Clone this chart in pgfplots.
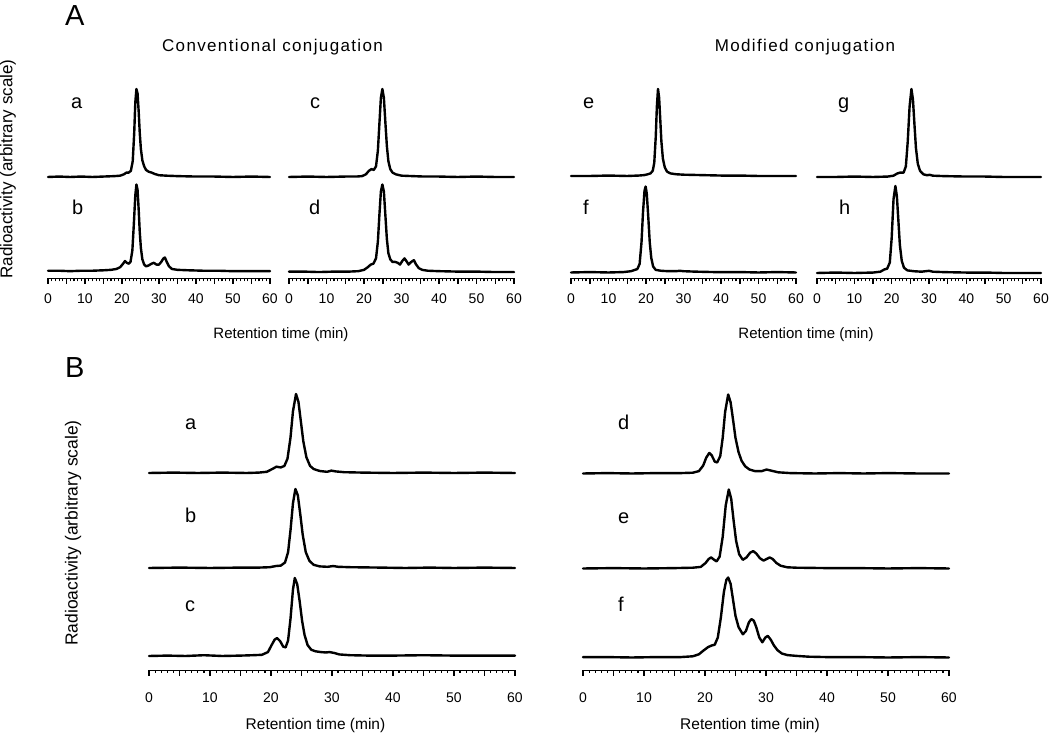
\documentclass[border=0pt]{standalone}
\usepackage{pgfplots}
\pgfplotsset{compat=1.18}
\usepackage{pgfplotstable}
\usepackage{fontspec}
\setmainfont{Liberation Sans}
\newfontfamily\spaced[LetterSpace=8]{Liberation Sans}

% ---------------- Panel A traces (relative intensity, peak = 100)
\pgfplotstableread{
t i
0 0
3 0.5
6 0
9 0.5
12 0
15 0.5
18 1
19.5 1.5
20.5 3
21.2 5
21.8 5
22.4 7
22.9 18
23.3 50
23.6 85
23.9 100
24.2 95
24.5 75
24.8 50
25.1 32
25.5 19
26 12
26.5 8
27.2 6
28 5
28.8 3.5
30 2
32 1.5
35 1
40 0.5
45 0.5
50 0
55 0.5
60 0
}\Aa
\pgfplotstableread{
t i
0 2
3 2
6 1.5
9 2
12 2
15 2.5
17 3
18.5 4
19.5 6
20.3 10
20.8 13
21.3 11
21.8 10
22.3 12
22.8 25
23.2 55
23.6 88
23.9 100
24.2 94
24.5 72
24.8 46
25.1 28
25.5 15
26 9
26.5 7
27.2 8
28 10
28.6 11
29.3 9
30 9
30.6 12
31.2 16
31.6 17
32.1 12
32.7 7
33.5 4
35 3
38 2.5
42 2
46 2
50 1.5
55 1.5
60 1.5
}\Ab
\pgfplotstableread{
t i
0 0
5 0.5
10 0
15 0.5
18 0.5
19.5 1
20.5 3
21.3 7
22 9
22.6 8
23.2 12
23.7 30
24.1 60
24.5 90
24.9 100
25.3 90
25.7 62
26.1 35
26.5 18
27 9
27.6 5
28.5 3
30 1.5
33 1
36 0.5
40 0.5
45 0
50 0.5
55 0
60 0
}\Ac
\pgfplotstableread{
t i
0 1
4 1
8 0.5
12 1
16 1
18.5 1.5
20 3
21 6
21.8 9
22.5 10
23.2 16
23.7 35
24.1 65
24.5 92
24.9 100
25.3 92
25.7 65
26.1 38
26.5 22
27 15
27.6 12
28.3 12
29 11
29.6 9
30.2 13
30.8 16
31.3 13
31.9 9
32.6 12
33.3 14
33.9 9
34.6 5
35.5 3
37 2
40 1.5
45 1
50 1
55 0.5
60 0.5
}\Ad
\pgfplotstableread{
t i
0 0
5 0
10 0.5
15 0
18 0.5
19.5 1
20.5 2
21.2 3
21.8 6
22.2 15
22.6 45
22.9 80
23.2 100
23.5 90
23.8 65
24.1 40
24.5 20
25 10
25.6 5
26.5 3
28 2
30 1.5
35 1
40 0.5
45 0.5
50 0
55 0
60 0
}\Ae
\pgfplotstableread{
t i
0 0
5 0.5
10 0
14 0.5
16 1.5
17 3
17.7 4
18.3 10
18.8 35
19.2 70
19.6 95
19.9 100
20.2 92
20.6 65
21 35
21.4 17
21.9 7
22.6 3
24 2
26 1.5
28 1.5
29 2
30 1.5
33 1
38 0.5
45 0.5
50 0
55 0.5
60 0
}\Af
\pgfplotstableread{
t i
0 0
5 0
10 0.5
15 0
19 0.5
20.5 1.5
21.5 4
22.3 5
23.2 5
23.8 12
24.3 40
24.8 80
25.3 100
25.7 88
26.1 60
26.5 33
27 15
27.6 7
28.5 3
29.5 2
30.2 2.5
31 1.5
34 1
40 0.5
45 0.5
50 0
55 0
60 0
}\Ag
\pgfplotstableread{
t i
0 0
5 0.5
10 0
15 0.5
17 1.5
18 4
18.8 5
19.5 12
20 40
20.5 85
21 100
21.4 88
21.8 60
22.2 32
22.7 14
23.3 6
24.2 3
26 2
28 1.5
30 2.5
31 1.5
34 1
40 0.5
45 0.5
50 0
55 0
60 0
}\Ah
% ---------------- Panel B traces
\pgfplotstableread{
t i
0 0
4 0.5
8 0
12 0.5
16 0
18 0.5
19.3 1.5
20.2 5
20.9 8
21.6 7
22.2 9
22.7 18
23.2 45
23.6 78
24.1 100
24.5 90
24.9 65
25.3 40
25.8 20
26.4 9
27 5
28 2.5
29.2 1.5
29.9 3
30.6 2
32 1
35 0.5
40 0
45 0.5
50 0
55 0.5
60 0
}\Ba
\pgfplotstableread{
t i
0 0
5 0.5
10 0
15 0.5
18 0.5
19.8 1
20.8 2.5
21.6 3
22.3 7
22.8 20
23.2 48
23.6 82
24 100
24.4 92
24.8 68
25.2 42
25.7 20
26.3 9
27 4
28 2
29.3 1.5
30.2 2.5
31 1.5
33 1
38 0.5
42 0
46 0.5
50 0
55 0.5
60 0
}\Bb
\pgfplotstableread{
t i
0 0
3 0.5
6 0
9 1
12 0
15 0.5
17 1
18.5 1.5
19.5 5
20.1 14
20.6 21
21 23
21.5 19
22 12
22.4 11
22.8 20
23.2 48
23.6 85
23.9 100
24.3 92
24.7 70
25.1 45
25.5 27
26 14
26.6 8
27.3 6
28.2 5
29 4.5
29.6 5
30.3 4
31.2 2
33 1
36 0.5
40 0.5
45 1
50 0.5
55 0.5
60 0.5
}\Bc
\pgfplotstableread{
t i
0 0
4 0.5
8 0
12 0.5
16 0.5
18 1
19 3
19.7 10
20.2 20
20.7 26
21.1 23
21.6 15
22 14
22.5 22
22.9 45
23.3 78
23.8 100
24.2 90
24.6 68
25 45
25.5 27
26 16
26.6 9
27.3 5
28.2 3
29.3 3
30.1 5
30.9 3.5
32 1.5
34 0.5
38 0
42 0.5
46 0
50 0.5
55 0
60 0
}\Bd
\pgfplotstableread{
t i
0 0
5 0.5
10 0
15 0.5
18 1
19.3 2
20.1 7
20.6 12
21 14
21.5 11
21.9 9
22.4 15
22.9 40
23.4 80
23.9 100
24.3 88
24.7 60
25.1 35
25.6 18
26.2 11
26.8 14
27.4 20
27.9 22
28.4 19
29 13
29.6 10
30.1 12
30.6 14
31.1 12
31.7 7
32.4 3.5
33.5 1.5
35 1
40 0.5
45 0.5
50 0
55 0.5
60 0
}\Be
\pgfplotstableread{
t i
0 0.5
4 0.5
8 0
12 0.5
16 0.5
18 1.5
19 4
19.8 9
20.5 13
21.1 15
21.6 16
22.1 25
22.6 50
23.1 82
23.5 97
23.8 100
24.2 92
24.6 72
25 52
25.5 38
26.2 29
26.7 33
27.2 44
27.6 48
28 46
28.4 38
28.9 25
29.4 19
29.9 25
30.3 27
30.8 22
31.3 15
31.9 9
32.6 5
33.5 3
35 2
37 1
40 0.5
45 0.5
50 0
55 0.5
60 0
}\Bf

\tikzset{tr/.style={black, solid, mark=none, line width=2.4pt, line join=round, line cap=round}}
\pgfplotsset{
  chrom/.style={
    scale only axis, clip=false,
    xmin=0, xmax=60, ymin=0,
    axis x line=bottom, axis y line=none,
    axis line style={-, line width=1.8pt, black},
    every outer x axis line/.append style={-, line width=1.8pt, black},
    ytick=\empty,
    xtick={0,5,...,60},
    xticklabels={0,,10,,20,,30,,40,,50,,60},
    minor x tick num=4,
    tick align=outside,
    major tick style={line width=1.5pt, black},
    minor tick style={line width=1.2pt, black},
    major tick length=5.5pt, minor tick length=2.8pt,
    xticklabel style={font=\fontsize{14}{14}\selectfont, anchor=base, inner sep=0pt},
    /pgf/number format/assume math mode=true,
    anchor=south west,
  },
  chromA/.style={chrom, ymax=200, height=200pt, xticklabel shift=19.5pt},
  chromB/.style={chrom, ymax=285, height=285pt, width=366pt, xticklabel shift=26.5pt,
    minor tick length=2.2pt},
}

\begin{document}
\begin{tikzpicture}[x=1pt,y=1pt]
\path[use as bounding box] (0,0) rectangle (1050,735);

% ---------- Panel A
\begin{axis}[chromA, at={(48pt,456.5pt)}, width=222pt]
\addplot[tr] table[x=t, y expr=\thisrow{i}*0.88+101.5] {\Aa};
\addplot[tr] table[x=t, y expr=\thisrow{i}*0.88+6] {\Ab};
\end{axis}
\begin{axis}[chromA, at={(289pt,456.5pt)}, width=225pt]
\addplot[tr] table[x=t, y expr=\thisrow{i}*0.88+101.5] {\Ac};
\addplot[tr] table[x=t, y expr=\thisrow{i}*0.88+6] {\Ad};
\end{axis}
\begin{axis}[chromA, at={(571pt,456.5pt)}, width=225pt]
\addplot[tr] table[x=t, y expr=\thisrow{i}*0.87+102.5] {\Ae};
\addplot[tr] table[x=t, y expr=\thisrow{i}*0.86+6] {\Af};
\end{axis}
\begin{axis}[chromA, at={(817pt,456.5pt)}, width=224pt]
\addplot[tr] table[x=t, y expr=\thisrow{i}*0.88+101.5] {\Ag};
\addplot[tr] table[x=t, y expr=\thisrow{i}*0.87+5.5] {\Ah};
\end{axis}

% ---------- Panel B
\begin{axis}[chromB, at={(149pt,64.5pt)}]
\addplot[tr] table[x=t, y expr=\thisrow{i}*0.79+197.5] {\Ba};
\addplot[tr] table[x=t, y expr=\thisrow{i}*0.79+102.5] {\Bb};
\addplot[tr] table[x=t, y expr=\thisrow{i}*0.78+14.5] {\Bc};
\end{axis}
\begin{axis}[chromB, at={(583pt,64.5pt)}]
\addplot[tr] table[x=t, y expr=\thisrow{i}*0.79+197] {\Bd};
\addplot[tr] table[x=t, y expr=\thisrow{i}*0.79+102] {\Be};
\addplot[tr] table[x=t, y expr=\thisrow{i}*0.80+13] {\Bf};
\end{axis}

% ---------- Texts
\node[anchor=base west, inner sep=0pt, font=\fontsize{29}{29}\selectfont] at (65,709) {A};
\node[anchor=base west, inner sep=0pt, font=\fontsize{29}{29}\selectfont] at (65,357) {B};

\node[rotate=90, inner sep=0pt, font=\fontsize{17}{17}\selectfont] at (8,566) {Radioactivity (arbitrary scale)};
\node[rotate=90, inner sep=0pt, font=\fontsize{17.5}{17.5}\selectfont] at (73,202) {Radioactivity (arbitrary scale)};

\node[anchor=base, inner sep=0pt, font=\fontsize{17}{17}\selectfont\spaced] at (272.5,683) {Conventional conjugation};
\node[anchor=base, inner sep=0pt, font=\fontsize{17}{17}\selectfont\spaced] at (805,683) {Modified conjugation};

\node[anchor=base, inner sep=0pt, font=\fontsize{15}{15}\selectfont] at (281,396) {Retention time (min)};
\node[anchor=base, inner sep=0pt, font=\fontsize{15}{15}\selectfont] at (806,396) {Retention time (min)};
\node[anchor=base, inner sep=0pt, font=\fontsize{15.5}{15.5}\selectfont] at (315.5,5) {Retention time (min)};
\node[anchor=base, inner sep=0pt, font=\fontsize{15.5}{15.5}\selectfont] at (750,5) {Retention time (min)};

\begin{scope}[font=\fontsize{20}{20}\selectfont]
\node[anchor=base west, inner sep=0pt] at (71,626) {a};
\node[anchor=base west, inner sep=0pt] at (72,520) {b};
\node[anchor=base west, inner sep=0pt] at (310,626) {c};
\node[anchor=base west, inner sep=0pt] at (309,520) {d};
\node[anchor=base west, inner sep=0pt] at (583,626) {e};
\node[anchor=base west, inner sep=0pt] at (583,520) {f};
\node[anchor=base west, inner sep=0pt] at (838,626) {g};
\node[anchor=base west, inner sep=0pt] at (839,520) {h};
\node[anchor=base west, inner sep=0pt] at (185,305) {a};
\node[anchor=base west, inner sep=0pt] at (185,212) {b};
\node[anchor=base west, inner sep=0pt] at (185,123) {c};
\node[anchor=base west, inner sep=0pt] at (618,305) {d};
\node[anchor=base west, inner sep=0pt] at (618,211) {e};
\node[anchor=base west, inner sep=0pt] at (618,123) {f};
\end{scope}
\end{tikzpicture}
\end{document}
